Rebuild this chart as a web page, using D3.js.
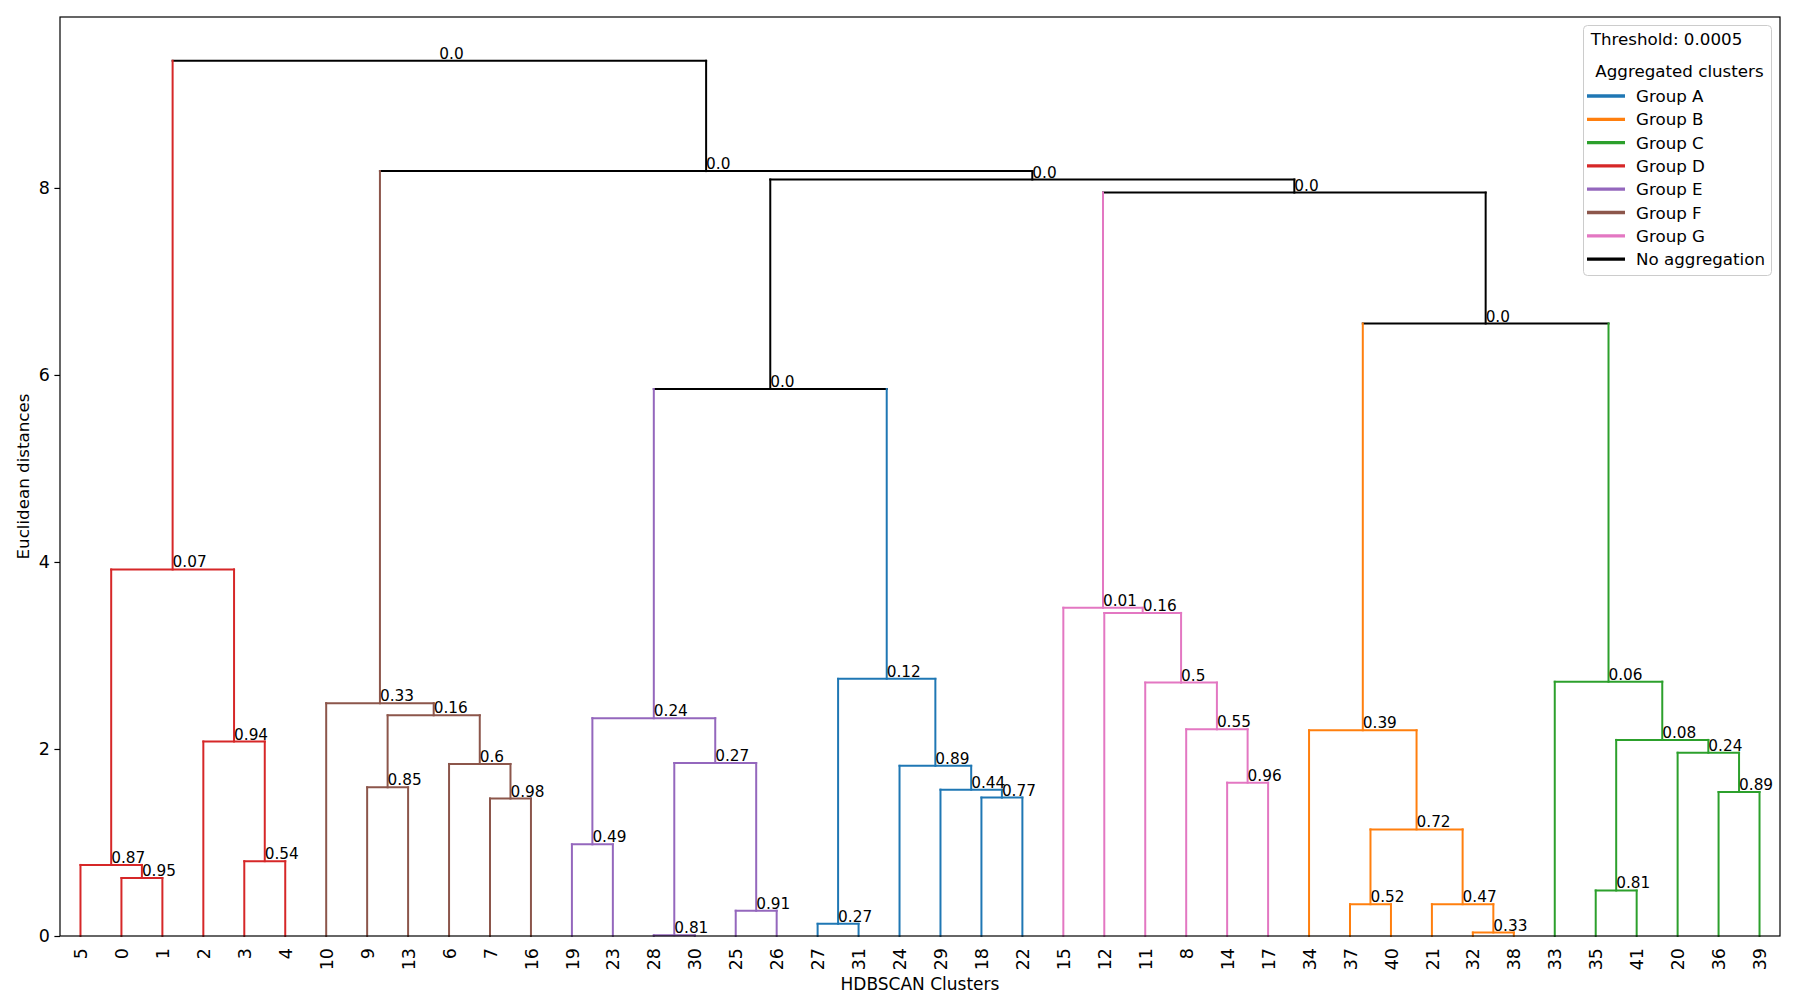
<!DOCTYPE html>
<html lang="en">
<head>
  <meta charset="UTF-8">
  <title>Dendrogram</title>
  <script src="https://cdn.jsdelivr.net/npm/d3@7"></script>
  <style>
    body{ margin:0; background:#fff; }
    text{ font-family:"DejaVu Sans", sans-serif; fill:#000; }
    .links line{ stroke-width:2; stroke-linecap:square; }
  </style>
</head>
<body>
  <svg id="chart"></svg>
  <script>

  // leaf order along the x axis (HDBSCAN cluster ids)
  var leafLabels = [5,0,1,2,3,4,10,9,13,6,7,16,19,23,28,30,25,26,27,31,24,29,18,22,15,12,11,8,14,17,34,37,40,21,32,38,33,35,41,20,36,39];

  // merges: ids 0..41 are leaves, merge k gets id 42+k
  var mergeChildren = [
    [0,1],[5,42],[3,4],[2,44],[43,45],
    [9,13],[7,16],[6,48],[47,49],[10,50],
    [19,23],[28,30],[25,26],[53,54],[52,55],
    [27,31],[18,22],[29,58],[24,59],[57,60],
    [56,61],
    [14,17],[8,63],[11,64],[12,65],[15,66],
    [37,40],[32,38],[21,69],[68,70],[34,71],
    [35,41],[36,39],[20,74],[73,75],[33,76],
    [72,77],[67,78],[62,79],[51,80],[46,81]
  ];
  var mergeHeights = [
    0.62,0.76,0.80,2.08,3.92,
    1.59,1.47,1.84,2.36,2.49,
    0.98,0.007,0.27,1.85,2.33,
    0.13,1.48,1.565,1.82,2.75,
    5.85,
    1.64,2.21,2.71,3.455,3.51,
    0.34,0.037,0.34,1.14,2.20,
    0.487,1.54,1.96,2.097,2.72,
    6.55,7.95,8.09,8.18,9.36
  ];
  var mergeScores = [
    0.95,0.87,0.54,0.94,0.07,
    0.85,0.98,0.6,0.16,0.33,
    0.49,0.81,0.91,0.27,0.24,
    0.27,0.77,0.44,0.89,0.12,
    0.0,
    0.96,0.55,0.5,0.16,0.01,
    0.52,0.33,0.47,0.72,0.39,
    0.81,0.89,0.24,0.08,0.06,
    0.0,0.0,0.0,0.0,0.0
  ];
  var mergeGroups = [
    "D","D","D","D","D",
    "F","F","F","F","F",
    "E","E","E","E","E",
    "A","A","A","A","A",
    null,
    "G","G","G","G","G",
    "B","B","B","B","B",
    "C","C","C","C","C",
    null,null,null,null,null
  ];
  var groupNames = ["A","B","C","D","E","F","G"];
  var yTicks = [0,2,4,6,8];
  var threshold = "0.0005";

  var W = 1800, H = 1000,
    mLeft = 60, mRight = 1780, mTop = 17, mBottom = 936,
    nLeaf = leafLabels.length,
    maxH = d3.max(mergeHeights);

  var color = d3.scaleOrdinal(groupNames, d3.schemeCategory10);
  function col(g){ return g ? color(g) : "#000"; }

  var x = d3.scaleLinear().domain([0, nLeaf * 10]).range([mLeft, mRight]);
  var y = d3.scaleLinear().domain([0, maxH * 1.05]).range([mBottom, mTop]);

  // node positions / heights / colours
  var nodeX = {}, nodeH = {}, nodeG = {};
  leafLabels.forEach(function(l, i){ nodeX[l] = 5 + 10 * i; nodeH[l] = 0; });
  mergeChildren.forEach(function(c, k){
    var id = nLeaf + k;
    nodeX[id] = (nodeX[c[0]] + nodeX[c[1]]) / 2;
    nodeH[id] = mergeHeights[k];
    nodeG[id] = mergeGroups[k];
    c.forEach(function(ch){ if (ch < nLeaf) nodeG[ch] = mergeGroups[k]; });
  });

  var svg = d3.select("#chart").attr("width", W).attr("height", H);
  svg.append("rect").attr("width", W).attr("height", H).attr("fill", "#fff");

  var g = svg.append("g").attr("class", "links");

  // horizontals first, then the legs
  mergeChildren.forEach(function(c, k){
    var id = nLeaf + k;
    g.append("line")
      .attr("x1", x(nodeX[c[0]])).attr("x2", x(nodeX[c[1]]))
      .attr("y1", y(nodeH[id])).attr("y2", y(nodeH[id]))
      .style("stroke", col(nodeG[id]));
  });
  mergeChildren.forEach(function(c, k){
    var id = nLeaf + k;
    c.forEach(function(ch){
      g.append("line")
        .attr("x1", x(nodeX[ch])).attr("x2", x(nodeX[ch]))
        .attr("y1", y(nodeH[ch])).attr("y2", y(nodeH[id]))
        .style("stroke", col(nodeG[ch]));
    });
  });

  // score labels
  function fmt(v){ return Number.isInteger(v) ? v.toFixed(1) : String(v); }
  mergeChildren.forEach(function(c, k){
    var id = nLeaf + k;
    svg.append("text")
      .attr("x", x(nodeX[id]))
      .attr("y", y(nodeH[id]) - 2)
      .style("font-size", "15.3px")
      .text(fmt(mergeScores[k]));
  });

  // axes
  var yAxis = svg.append("g").attr("transform", "translate(" + mLeft + ",0)")
    .call(d3.axisLeft(y).tickValues(yTicks).tickSize(5.6).tickPadding(4.5).tickFormat(d3.format("d")));
  yAxis.select(".domain").remove();
  yAxis.selectAll("line").style("stroke", "#000").style("stroke-width", 1.2);
  yAxis.selectAll("text").style("font-size", "17.5px").style("font-family", "DejaVu Sans");

  var xAxis = svg.append("g").attr("transform", "translate(0," + mBottom + ")")
    .call(d3.axisBottom(x).tickValues(leafLabels.map(function(l, i){ return 5 + 10 * i; }))
      .tickSize(0).tickFormat(function(d, i){ return leafLabels[i]; }));
  xAxis.select(".domain").remove();
  xAxis.selectAll("text")
    .attr("y", 0).attr("x", -12).attr("dy", "0.35em")
    .attr("transform", "rotate(-90)")
    .style("text-anchor", "end")
    .style("font-size", "17.5px").style("font-family", "DejaVu Sans");

  svg.append("rect")
    .attr("x", mLeft).attr("y", mTop)
    .attr("width", mRight - mLeft).attr("height", mBottom - mTop)
    .attr("fill", "none").attr("stroke", "#000").attr("stroke-width", 1.2);

  svg.append("text")
    .attr("transform", "translate(22.5," + ((mTop + mBottom) / 2) + ")rotate(-90)")
    .attr("text-anchor", "middle").attr("dominant-baseline", "central")
    .style("font-size", "16.7px")
    .text("Euclidean distances");
  svg.append("text")
    .attr("x", (mLeft + mRight) / 2).attr("y", 990)
    .attr("text-anchor", "middle")
    .style("font-size", "17px")
    .text("HDBSCAN Clusters");

  // legend
  var lg = svg.append("g");
  lg.append("rect")
    .attr("x", 1583.5).attr("y", 25.5).attr("width", 188).attr("height", 250).attr("rx", 4)
    .attr("fill", "#fff").attr("fill-opacity", 0.8)
    .attr("stroke", "#cccccc").attr("stroke-width", 1);
  lg.append("text").attr("x", 1590.7).attr("y", 44.5)
    .style("font-size", "16.7px").text("Threshold: " + threshold);
  lg.append("text").attr("x", 1679.5).attr("y", 77).attr("text-anchor", "middle")
    .style("font-size", "16.7px").text("Aggregated clusters");

  var items = groupNames.map(function(n){ return {name: "Group " + n, c: color(n)}; })
    .concat([{name: "No aggregation", c: "#000"}]);
  items.forEach(function(d, i){
    var yy = 96 + i * 23.3;
    lg.append("line").attr("x1", 1587).attr("x2", 1625).attr("y1", yy).attr("y2", yy)
      .attr("stroke", d.c).attr("stroke-width", 3.3);
    lg.append("text").attr("x", 1636).attr("y", yy).attr("dominant-baseline", "central")
      .style("font-size", "16.7px").text(d.name);
  });

  </script>
</body>
</html>
